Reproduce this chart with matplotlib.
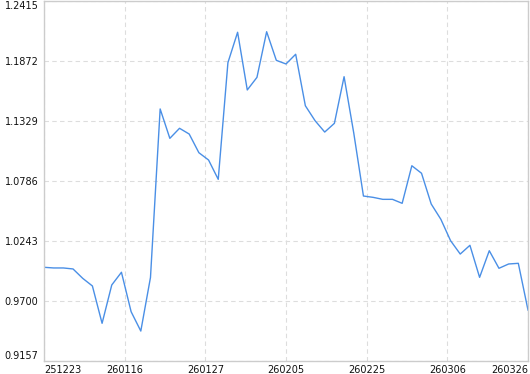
import numpy as np
import matplotlib
matplotlib.use("Agg")
import matplotlib.pyplot as plt

# values (51 points)
values = [1.0005, 0.9999, 0.9999, 0.9990, 0.9905, 0.9836, 0.9498, 0.9845, 0.9960, 0.9603,
          0.9428, 0.9913, 1.1438, 1.1172, 1.1263, 1.1211, 1.1042, 1.0976, 1.0801, 1.1857,
          1.2132, 1.1610, 1.1724, 1.2137, 1.1878, 1.1845, 1.1933, 1.1467, 1.1332, 1.1229,
          1.1308, 1.1730, 1.1220, 1.0650, 1.0638, 1.0620, 1.0620, 1.0584, 1.0924, 1.0856,
          1.0578, 1.0439, 1.0246, 1.0125, 1.0204, 0.9914, 1.0155, 0.9996, 1.0035, 1.0041,
          0.9618]
date_labels = ["251223", "260116", "260127", "260205", "260225", "260306", "260326"]
y_labels = ["0.9157", "0.9700", "1.0243", "1.0786", "1.1329", "1.1872", "1.2415"]

x = np.arange(len(values))
x_ticks = np.linspace(0, len(values) - 1, len(date_labels))
y_ticks = [float(v) for v in y_labels]

fig = plt.figure(figsize=(5.3, 3.74), dpi=100)
ax = fig.add_axes([44 / 530, 13 / 374, 484 / 530, 360 / 374])

ax.plot(x, values, color="#4a8fe6", linewidth=1.0)

ax.set_xlim(0, len(values) - 1)
ax.set_ylim(y_ticks[0], y_ticks[-1])

ax.set_xticks(x_ticks)
ax.set_xticklabels(date_labels)
ax.set_yticks(y_ticks)
ax.set_yticklabels(y_labels)

ax.tick_params(axis="both", length=0, labelsize=7, labelcolor="#111111")
ax.tick_params(axis="x", pad=3)
ax.tick_params(axis="y", pad=4)

xl = ax.get_xticklabels()
xl[0].set_ha("left")
xl[-1].set_ha("right")
yl = ax.get_yticklabels()
yl[0].set_va("bottom")
yl[-1].set_va("top")

ax.grid(True, linestyle=(0, (4, 3)), color="#dddddd", linewidth=0.8)
ax.set_axisbelow(True)
for side in ["top", "right", "bottom", "left"]:
    ax.spines[side].set_color("#cccccc")
    ax.spines[side].set_linewidth(1.0)

fig.savefig("out.png", dpi=100)
